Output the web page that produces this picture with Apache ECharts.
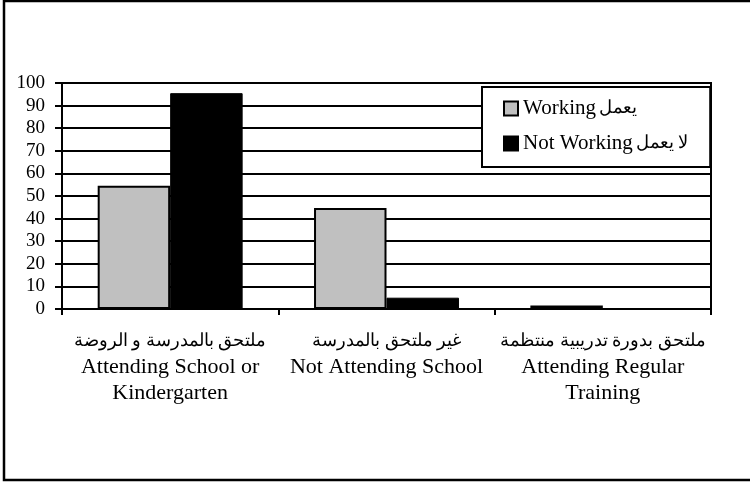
<!DOCTYPE html>
<html>
<head>
<meta charset="utf-8">
<script src="https://cdn.jsdelivr.net/npm/echarts@6/dist/echarts.min.js"></script>
<style>
html, body { margin: 0; padding: 0; background: #fff; }
#chart { width: 750px; height: 482px; }
</style>
</head>
<body>
<div id="chart"></div>
<script>
var catAr = ['ملتحق بالمدرسة و الروضة', 'غير ملتحق بالمدرسة', 'ملتحق بدورة تدريبية منتظمة'];
var catEn = ['Attending School or\nKindergarten', 'Not Attending School', 'Attending Regular\nTraining'];
var seriesEn = ['Working', 'Not Working'];
var seriesAr = ['يعمل', 'لا يعمل'];
var working = [54.5, 44.7, 1.5];
var notWorking = [95.5, 5, 0.4];

var categories = [];
for (var i = 0; i < catAr.length; i++) {
    categories.push(catAr[i] + '\n' + catEn[i]);
}
var seriesNames = [];
for (var i = 0; i < seriesEn.length; i++) {
    seriesNames.push(seriesEn[i] + ' ' + seriesAr[i]);
}

var font = '"Liberation Serif", "DejaVu Serif", serif';

var option = {
    animation: false,
    backgroundColor: '#fff',
    textStyle: { fontFamily: font, color: '#000' },
    graphic: [{
        type: 'rect',
        shape: { x: 4, y: 1, width: 800, height: 479 },
        style: { fill: 'none', stroke: '#000', lineWidth: 2.5 },
        z: 100
    }],
    grid: {
        left: 62, right: 39, top: 83, bottom: 173,
        show: true, borderColor: '#000', borderWidth: 2
    },
    legend: {
        orient: 'vertical',
        left: 482, top: 87,
        padding: [11, 22, 13, 21],
        itemGap: 14,
        itemWidth: 14, itemHeight: 14,
        icon: 'rect',
        backgroundColor: '#fff',
        borderColor: '#000', borderWidth: 2,
        formatter: function (name) {
            var k = seriesNames.indexOf(name);
            return '{en|' + seriesEn[k] + '} {ar|' + seriesAr[k] + '}';
        },
        textStyle: {
            fontFamily: font, color: '#000',
            rich: {
                en: { fontFamily: font, fontSize: 21, lineHeight: 21, color: '#000' },
                ar: { fontFamily: font, fontSize: 18, lineHeight: 21, color: '#000' }
            }
        },
        data: seriesNames,
        z: 10
    },
    xAxis: {
        type: 'category',
        data: categories,
        axisLine: { lineStyle: { color: '#000', width: 2 } },
        axisTick: { show: true, length: 6, lineStyle: { color: '#000', width: 2 } },
        axisLabel: {
            interval: 0, margin: 19, color: '#000', align: 'center',
            formatter: function (value) {
                var lines = value.split('\n');
                var out = ['{ar|' + lines[0] + '}'];
                for (var j = 1; j < lines.length; j++) {
                    out.push('{en|' + lines[j] + '}');
                }
                return out.join('\n');
            },
            rich: {
                ar: { fontFamily: font, fontSize: 18, lineHeight: 26, color: '#000' },
                en: { fontFamily: font, fontSize: 22, lineHeight: 26, color: '#000' }
            }
        }
    },
    yAxis: {
        type: 'value',
        min: 0, max: 100, interval: 10,
        axisLine: { show: true, lineStyle: { color: '#000', width: 2 } },
        axisTick: { show: true, length: 7, lineStyle: { color: '#000', width: 2 } },
        axisLabel: { fontFamily: font, fontSize: 19, color: '#000', margin: 17 },
        splitLine: { lineStyle: { color: '#000', width: 2 } }
    },
    series: [
        {
            name: seriesNames[0],
            type: 'bar',
            data: working,
            barGap: '0%',
            barCategoryGap: '33%',
            itemStyle: { color: '#c0c0c0', borderColor: '#000', borderWidth: 2 }
        },
        {
            name: seriesNames[1],
            type: 'bar',
            data: notWorking,
            itemStyle: { color: '#000', borderColor: '#000', borderWidth: 1 }
        }
    ]
};

var myChart = echarts.init(document.getElementById('chart'));
myChart.setOption(option);
</script>
</body>
</html>
